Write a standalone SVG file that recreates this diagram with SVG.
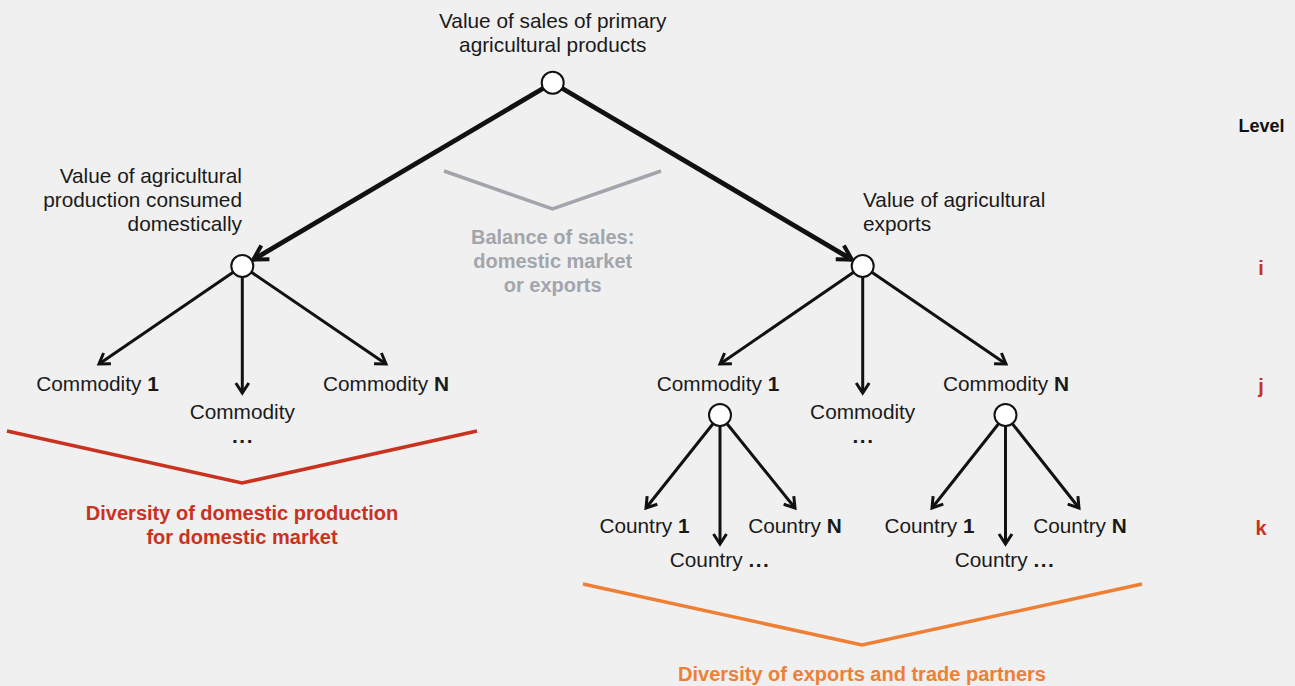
<svg xmlns="http://www.w3.org/2000/svg" width="1295" height="686" viewBox="0 0 1295 686">
<defs>
<style>
.t{font-family:"Liberation Sans",Arial,sans-serif;font-size:20.8px;fill:#1a1a1a}
.b{font-weight:bold}
.d{font-weight:bold;letter-spacing:1.5px}
.m{text-anchor:middle}
.e{text-anchor:end}
.lvl{font-family:"Liberation Sans",Arial,sans-serif;font-size:18px;font-weight:bold;text-anchor:middle}
.lv2{font-family:"Liberation Sans",Arial,sans-serif;font-size:20px;font-weight:bold;text-anchor:middle;fill:#c8321e}
.note{font-family:"Liberation Sans",Arial,sans-serif;font-size:20px;font-weight:bold;text-anchor:middle}
.node{fill:#ffffff;stroke:#111;stroke-width:2}
.thick{stroke:#111;stroke-width:4.8;fill:none;marker-end:url(#ah2)}
.thin{stroke:#111;stroke-width:3;fill:none;marker-end:url(#ah1)}
.brk{fill:none;stroke-width:3.5;stroke-linejoin:miter}
</style>
<marker id="ah1" markerUnits="userSpaceOnUse" viewBox="-14 -9 18 18" refX="0" refY="0" markerWidth="18" markerHeight="18" orient="auto" overflow="visible">
<path d="M-10,-6.5 L0,0 L-10,6.5" fill="none" stroke="#111" stroke-width="3"/>
</marker>
<marker id="ah2" markerUnits="userSpaceOnUse" viewBox="-18 -11 22 22" refX="0" refY="0" markerWidth="22" markerHeight="22" orient="auto" overflow="visible">
<path d="M-14,-8 L0,0 L-14,8" fill="none" stroke="#111" stroke-width="4"/>
</marker>
</defs>
<rect width="1295" height="686" fill="#f0f0f0"/>

<g id="brackets">
<polyline class="brk" stroke="#a3a5ad" points="444,171 552.5,209 661,171"/>
<polyline class="brk" stroke="#c8321e" points="7,431 242,483 477,431"/>
<polyline class="brk" stroke="#ef7f35" points="583,584 862,645 1142,584"/>
</g>

<g id="connectors">
<line class="thick" x1="552.7" y1="82.7" x2="253.3" y2="259.6"/>
<line class="thick" x1="552.7" y1="82.7" x2="851.9" y2="259.6"/>
<line class="thin" x1="242.3" y1="266" x2="99" y2="364"/>
<line class="thin" x1="242.3" y1="266" x2="242.3" y2="393"/>
<line class="thin" x1="242.3" y1="266" x2="386" y2="364"/>
<line class="thin" x1="862.7" y1="266" x2="720" y2="364"/>
<line class="thin" x1="862.7" y1="266" x2="862.7" y2="393"/>
<line class="thin" x1="862.7" y1="266" x2="1006" y2="364"/>
<line class="thin" x1="720" y1="415" x2="646" y2="508"/>
<line class="thin" x1="720" y1="415" x2="720" y2="544"/>
<line class="thin" x1="720" y1="415" x2="795" y2="508"/>
<line class="thin" x1="1005.5" y1="415" x2="932" y2="508"/>
<line class="thin" x1="1005.5" y1="415" x2="1005.5" y2="544"/>
<line class="thin" x1="1005.5" y1="415" x2="1079" y2="508"/>
</g>

<g id="root">
<circle class="node" cx="552.7" cy="82.7" r="11"/>
<text class="t m" x="552.7" y="28">Value of sales of primary</text>
<text class="t m" x="552.7" y="52">agricultural products</text>
</g>

<g id="domestic">
<circle class="node" cx="242.3" cy="266" r="11"/>
<text class="t e" x="242" y="182.5">Value of agricultural</text>
<text class="t e" x="242" y="206.5">production consumed</text>
<text class="t e" x="242" y="230.5">domestically</text>
</g>

<g id="exports">
<circle class="node" cx="862.7" cy="266" r="11"/>
<text class="t" x="863" y="206.5">Value of agricultural</text>
<text class="t" x="863" y="230.5">exports</text>
</g>

<g id="dom-commodity-1"><text class="t m" x="97.5" y="391">Commodity <tspan class="b">1</tspan></text></g>
<g id="dom-commodity-mid"><text class="t m" x="242.3" y="418.5">Commodity</text><text class="t m d" x="243" y="443">...</text></g>
<g id="dom-commodity-n"><text class="t m" x="386" y="391">Commodity <tspan class="b">N</tspan></text></g>

<g id="exp-commodity-1">
<text class="t m" x="718" y="391">Commodity <tspan class="b">1</tspan></text>
<circle class="node" cx="720" cy="415" r="11"/>
</g>
<g id="exp-commodity-mid"><text class="t m" x="862.7" y="418.5">Commodity</text><text class="t m d" x="863.5" y="443">...</text></g>
<g id="exp-commodity-n">
<text class="t m" x="1006" y="391">Commodity <tspan class="b">N</tspan></text>
<circle class="node" cx="1005.5" cy="415" r="11"/>
</g>

<g id="c1-country-1"><text class="t m" x="644.5" y="532.5">Country <tspan class="b">1</tspan></text></g>
<g id="c1-country-mid"><text class="t m" x="720" y="566.5">Country <tspan class="d">...</tspan></text></g>
<g id="c1-country-n"><text class="t m" x="795" y="532.5">Country <tspan class="b">N</tspan></text></g>
<g id="cn-country-1"><text class="t m" x="929.5" y="532.5">Country <tspan class="b">1</tspan></text></g>
<g id="cn-country-mid"><text class="t m" x="1005" y="566.5">Country <tspan class="d">...</tspan></text></g>
<g id="cn-country-n"><text class="t m" x="1080" y="532.5">Country <tspan class="b">N</tspan></text></g>

<g id="balance-note">
<text class="note" fill="#a3a5ad" x="552.7" y="243.5">Balance of sales:</text>
<text class="note" fill="#a3a5ad" x="552.7" y="268">domestic market</text>
<text class="note" fill="#a3a5ad" x="552.7" y="292">or exports</text>
</g>
<g id="domestic-note">
<text class="note" fill="#c8321e" x="242" y="520">Diversity of domestic production</text>
<text class="note" fill="#c8321e" x="242" y="544">for domestic market</text>
</g>
<g id="exports-note">
<text class="note" fill="#ef7f35" x="862" y="681">Diversity of exports and trade partners</text>
</g>

<g id="levels">
<text class="lvl" fill="#111" x="1261.5" y="131.5">Level</text>
<text class="lv2" x="1261" y="275">i</text>
<text class="lv2" x="1261" y="393">j</text>
<text class="lv2" x="1261" y="535">k</text>
</g>
</svg>
